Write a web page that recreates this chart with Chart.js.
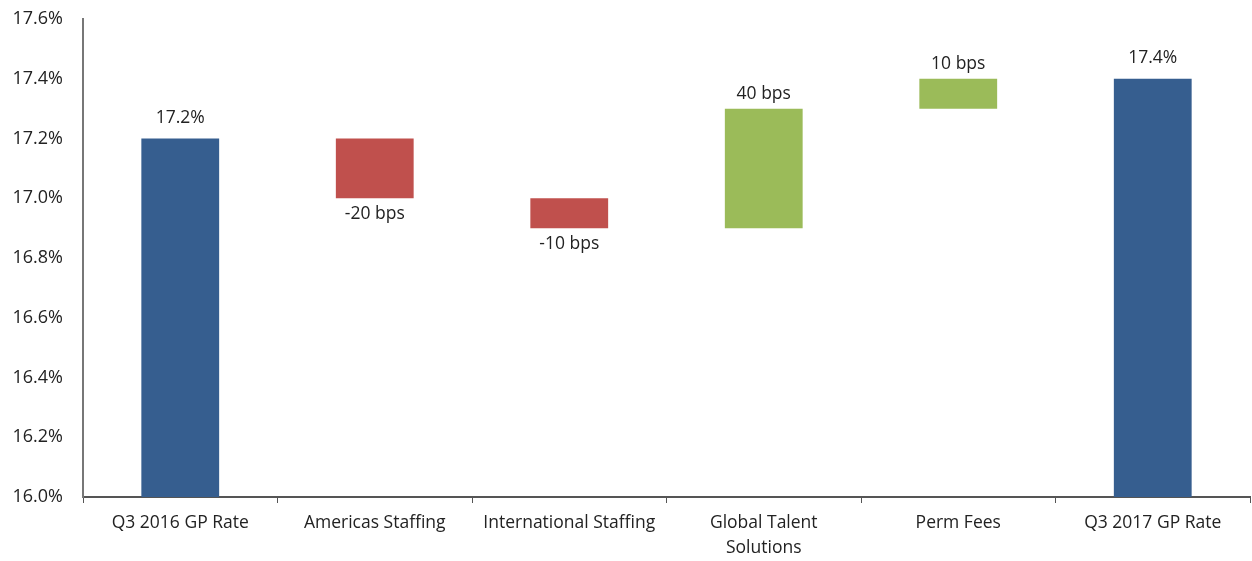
<!DOCTYPE html>
<html>
<head>
<meta charset="utf-8">
<script src="https://cdn.jsdelivr.net/npm/chart.js@4.4.1/dist/chart.umd.min.js"></script>
<style>
  html, body { margin: 0; padding: 0; background: #fff; }
  #wrap { width: 1252px; height: 561px; }
</style>
</head>
<body>
<div id="wrap"><canvas id="waterfall"></canvas></div>
<script>
const categories = ['Q3 2016 GP Rate', 'Americas Staffing', 'International Staffing', ['Global Talent', 'Solutions'], 'Perm Fees', 'Q3 2017 GP Rate']
const startValues = [16.0, 17.2, 17.0, 16.9, 17.3, 16.0]
const endValues = [17.2, 17.0, 16.9, 17.3, 17.4, 17.4]
const valueLabels = ['17.2%', '-20 bps', '-10 bps', '40 bps', '10 bps', '17.4%']
const isTotal = [true, false, false, false, false, true]
const yTicks = [16.0, 16.2, 16.4, 16.6, 16.8, 17.0, 17.2, 17.4, 17.6]

const BLUE = '#365e8f'
const RED = '#c0504d'
const GREEN = '#9bbb59'
const FONT = '"Open Sans", "Liberation Sans", sans-serif'

let barColors = startValues.map((s, i) => {
    if (isTotal[i]) return BLUE
    return endValues[i] < s ? RED : GREEN
})

const barLabels = {
    id: 'barLabels',
    afterDatasetsDraw(chart) {
        let ctx = chart.ctx
        let meta = chart.getDatasetMeta(0)
        ctx.save()
        ctx.font = '17.5px ' + FONT
        ctx.fillStyle = '#222'
        ctx.textAlign = 'center'
        meta.data.forEach((bar, i) => {
            let top = Math.min(bar.y, bar.base)
            let bottom = Math.max(bar.y, bar.base)
            if (!isTotal[i] && endValues[i] < startValues[i]) {
                ctx.textBaseline = 'top'
                ctx.fillText(valueLabels[i], bar.x, bottom + 7)
            } else {
                // totals sit a little higher than the change labels
                ctx.textBaseline = 'bottom'
                ctx.fillText(valueLabels[i], bar.x, top - (isTotal[i] ? 12 : 6))
            }
        })
        ctx.restore()
    }
}

let chart = new Chart(document.getElementById('waterfall'), {
    type: 'bar',
    data: {
        labels: categories,
        datasets: [{
            data: startValues.map((s, i) => [s, endValues[i]]),
            backgroundColor: barColors,
            borderWidth: 0,
            barPercentage: 0.4,
            categoryPercentage: 1.0
        }]
    },
    options: {
        responsive: true,
        maintainAspectRatio: false,
        animation: false,
        layout: { padding: { top: 19, right: 2, left: 0, bottom: 0 } },
        plugins: {
            legend: { display: false },
            tooltip: { enabled: false }
        },
        scales: {
            x: {
                grid: {
                    display: true,
                    drawOnChartArea: false,
                    drawTicks: true,
                    tickLength: 6,
                    color: '#555',
                    offset: true
                },
                border: { display: true, color: '#555', width: 2 },
                ticks: {
                    color: '#222',
                    font: { family: FONT, size: 17.5, lineHeight: 1.4 },
                    maxRotation: 0,
                    autoSkip: false,
                    padding: 8
                },
                afterFit(scale) { scale.height = 64 }
            },
            y: {
                min: 16.0,
                max: 17.6,
                afterBuildTicks(scale) {
                    scale.ticks = yTicks.map(v => ({ value: v }))
                },
                // transparent ticks give the gap between labels and axis
                grid: {
                    display: true,
                    drawOnChartArea: false,
                    drawTicks: true,
                    tickLength: 18,
                    color: 'rgba(0,0,0,0)'
                },
                border: { display: true, color: '#777', width: 2 },
                ticks: {
                    color: '#222',
                    font: { family: FONT, size: 18 },
                    padding: 2,
                    callback: v => v.toFixed(1) + '%'
                },
                afterFit(scale) { scale.width = 83 }
            }
        }
    },
    plugins: [barLabels]
})
</script>
</body>
</html>
